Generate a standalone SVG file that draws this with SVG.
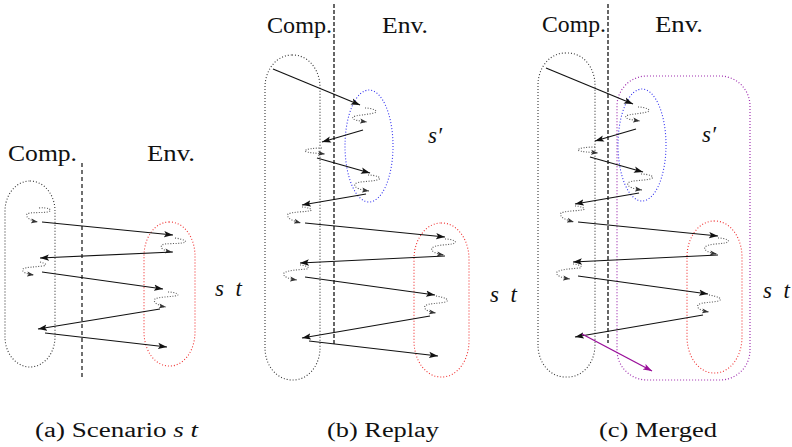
<svg xmlns="http://www.w3.org/2000/svg" width="792" height="447" viewBox="0 0 792 447">
<style>
text{font-family:"Liberation Serif","DejaVu Serif",serif;fill:#111}
.lbl{font-size:23px}
.it{font-style:italic}
.cap{font-size:20px}
.comp{fill:none;stroke:#333;stroke-width:1.1;stroke-dasharray:1 2}
.red{fill:none;stroke:#f03030;stroke-width:1.1;stroke-dasharray:1 2}
.blue{fill:none;stroke:#3030f0;stroke-width:1.1;stroke-dasharray:1 2}
.purple{fill:none;stroke:#a030b0;stroke-width:1.2;stroke-dasharray:1 2}
.sep{stroke:#111;stroke-width:1.2;stroke-dasharray:4 3;fill:none}
.sep2{stroke:#666;stroke-width:2;stroke-dasharray:4 2;fill:none}
.arr{stroke:#111;stroke-width:1.2;fill:none;marker-end:url(#ah)}
.parr{stroke:#9a109a;stroke-width:1.4;fill:none;marker-end:url(#ahp)}
.sq{stroke:#555;stroke-width:1.1;fill:none;stroke-dasharray:1 1.6;marker-end:url(#ahs)}
</style>
<defs>
<marker id="ah" markerUnits="userSpaceOnUse" markerWidth="10" markerHeight="8" refX="9" refY="4" orient="auto"><path d="M0,0.8 L9,4 L0,7.2 L2,4 z" fill="#111"/></marker>
<marker id="ahp" markerUnits="userSpaceOnUse" markerWidth="10" markerHeight="8" refX="9" refY="4" orient="auto"><path d="M0,0.8 L9,4 L0,7.2 L2,4 z" fill="#9a109a"/></marker>
<marker id="ahs" markerUnits="userSpaceOnUse" markerWidth="8" markerHeight="6" refX="7" refY="3" orient="auto"><path d="M0,0.5 L7,3 L0,5.5 L1.5,3 z" fill="#333"/></marker>
</defs>

<!-- Panel (a) -->
<g id="panel-a">
  <g id="a-comp-label"><text class="lbl" x="8" y="161" textLength="69" lengthAdjust="spacingAndGlyphs">Comp.</text></g>
  <g id="a-env-label"><text class="lbl" x="147" y="161" textLength="48" lengthAdjust="spacingAndGlyphs">Env.</text></g>
  <g id="a-separator"><line class="sep" x1="82" y1="163" x2="82" y2="378"/></g>
  <g id="a-comp"><rect class="comp" x="5" y="181" width="50" height="186" rx="25" ry="30"/></g>
  <g id="a-st"><rect class="red" x="144" y="222" width="51" height="144" rx="25" ry="34"/><text class="lbl it" x="215" y="296" textLength="27" lengthAdjust="spacing">s t</text></g>
</g>
<g id="a-connectors">
  <path class="sq" d="M39,208 C48,207 54,210 48,212 C40,213 30,212 27,214 C25,218 32,221 38,222"/>
  <line class="arr" x1="42" y1="222" x2="173" y2="235"/>
  <path class="sq" d="M175,238 C183,239 190,242 182,243 C175,244 165,243 162,245 C159,249 166,251 172,252"/>
  <line class="arr" x1="173" y1="252" x2="40" y2="258"/>
  <path class="sq" d="M40,262 C45,263 48,265 43,266 C35,267 26,267 23,269 C21,272 27,274 34,275"/>
  <line class="arr" x1="42" y1="272" x2="163" y2="289"/>
  <path class="sq" d="M168,292 C175,292 182,295 175,296 C168,297 158,297 155,299 C152,303 160,306 166,307"/>
  <line class="arr" x1="160" y1="309" x2="38" y2="329"/>
  <line class="arr" x1="45" y1="333" x2="167" y2="347"/>
</g>

<!-- Panel (b) -->
<g id="panel-b">
  <g id="b-comp-label"><text class="lbl" x="267" y="33" textLength="65" lengthAdjust="spacingAndGlyphs">Comp.</text></g>
  <g id="b-env-label"><text class="lbl" x="382" y="33" textLength="46" lengthAdjust="spacingAndGlyphs">Env.</text></g>
  <g id="b-separator"><line class="sep2" x1="334" y1="4" x2="334" y2="345"/></g>
  <g id="b-comp"><rect class="comp" x="265" y="55" width="55" height="325" rx="27" ry="32"/></g>
  <g id="b-sprime"><ellipse class="blue" cx="369" cy="146" rx="24" ry="56"/><text class="lbl it" x="428" y="143">s′</text></g>
  <g id="b-st"><rect class="red" x="414" y="223" width="55" height="154" rx="27" ry="36"/><text class="lbl it" x="490" y="302" textLength="27" lengthAdjust="spacing">s t</text></g>
</g>
<g id="b-connectors">
  <line class="arr" x1="273" y1="69" x2="360" y2="105"/>
  <path class="sq" d="M365,108 C372,108 380,111 374,113 C366,115 356,115 353,117 C351,120 360,121 367,122"/>
  <line class="arr" x1="363" y1="130" x2="322" y2="142"/>
  <path class="sq" d="M322,148 C315,148 305,149 305,151 C307,153 316,153 325,154"/>
  <line class="arr" x1="317" y1="158" x2="370" y2="173"/>
  <path class="sq" d="M368,175 C376,175 384,178 377,180 C369,182 358,181 355,184 C353,188 362,190 369,191"/>
  <line class="arr" x1="366" y1="194" x2="302" y2="205"/>
  <path class="sq" d="M302,207 C308,207 315,210 309,211 C302,212 292,212 288,214 C286,219 294,221 301,223"/>
  <line class="arr" x1="305" y1="223" x2="445" y2="237"/>
  <path class="sq" d="M445,239 C452,239 460,242 452,244 C445,245 435,245 432,248 C430,252 438,254 444,255"/>
  <line class="arr" x1="445" y1="256" x2="300" y2="263"/>
  <path class="sq" d="M300,265 C305,265 312,268 306,269 C298,270 288,270 284,273 C282,277 290,279 297,280"/>
  <line class="arr" x1="305" y1="277" x2="435" y2="295"/>
  <path class="sq" d="M436,296 C443,297 452,300 445,302 C437,304 428,303 425,306 C423,310 430,312 436,313"/>
  <line class="arr" x1="430" y1="316" x2="302" y2="338"/>
  <line class="arr" x1="309" y1="341" x2="438" y2="356"/>
</g>

<!-- Panel (c) -->
<g id="panel-c">
  <g id="c-comp-label"><text class="lbl" x="542" y="32" textLength="64" lengthAdjust="spacingAndGlyphs">Comp.</text></g>
  <g id="c-env-label"><text class="lbl" x="655" y="32" textLength="48" lengthAdjust="spacingAndGlyphs">Env.</text></g>
  <g id="c-separator"><line class="sep2" x1="608" y1="4" x2="608" y2="343"/></g>
  <g id="c-comp"><rect class="comp" x="538" y="53" width="57" height="324" rx="27" ry="32"/></g>
  <g id="c-merged"><rect class="purple" x="617" y="76" width="133" height="304" rx="30" ry="30"/></g>
  <g id="c-sprime"><ellipse class="blue" cx="642" cy="145" rx="24" ry="56"/><text class="lbl it" x="702" y="142">s′</text></g>
  <g id="c-st"><rect class="red" x="687" y="221" width="55" height="152" rx="27" ry="36"/><text class="lbl it" x="763" y="298" textLength="27" lengthAdjust="spacing">s t</text></g>
</g>
<g id="c-connectors" transform="translate(273,-1)">
  <line class="arr" x1="273" y1="69" x2="360" y2="105"/>
  <path class="sq" d="M365,108 C372,108 380,111 374,113 C366,115 356,115 353,117 C351,120 360,121 367,122"/>
  <line class="arr" x1="363" y1="130" x2="322" y2="142"/>
  <path class="sq" d="M322,148 C315,148 305,149 305,151 C307,153 316,153 325,154"/>
  <line class="arr" x1="317" y1="158" x2="370" y2="173"/>
  <path class="sq" d="M368,175 C376,175 384,178 377,180 C369,182 358,181 355,184 C353,188 362,190 369,191"/>
  <line class="arr" x1="366" y1="194" x2="302" y2="205"/>
  <path class="sq" d="M302,207 C308,207 315,210 309,211 C302,212 292,212 288,214 C286,219 294,221 301,223"/>
  <line class="arr" x1="305" y1="223" x2="445" y2="237"/>
  <path class="sq" d="M445,239 C452,239 460,242 452,244 C445,245 435,245 432,248 C430,252 438,254 444,255"/>
  <line class="arr" x1="445" y1="256" x2="300" y2="263"/>
  <path class="sq" d="M300,265 C305,265 312,268 306,269 C298,270 288,270 284,273 C282,277 290,279 297,280"/>
  <line class="arr" x1="305" y1="277" x2="435" y2="295"/>
  <path class="sq" d="M436,296 C443,297 452,300 445,302 C437,304 428,303 425,306 C423,310 430,312 436,313"/>
  <line class="arr" x1="430" y1="316" x2="302" y2="338"/>
  <line class="parr" x1="309" y1="335" x2="379" y2="372"/>
</g>

<!-- Captions -->
<g id="captions">
  <text class="cap" x="35" y="437" textLength="163" lengthAdjust="spacingAndGlyphs">(a) Scenario <tspan class="it">s t</tspan></text>
  <text class="cap" x="327" y="437" textLength="112" lengthAdjust="spacingAndGlyphs">(b) Replay</text>
  <text class="cap" x="599" y="437" textLength="118" lengthAdjust="spacingAndGlyphs">(c) Merged</text>
</g>
</svg>
